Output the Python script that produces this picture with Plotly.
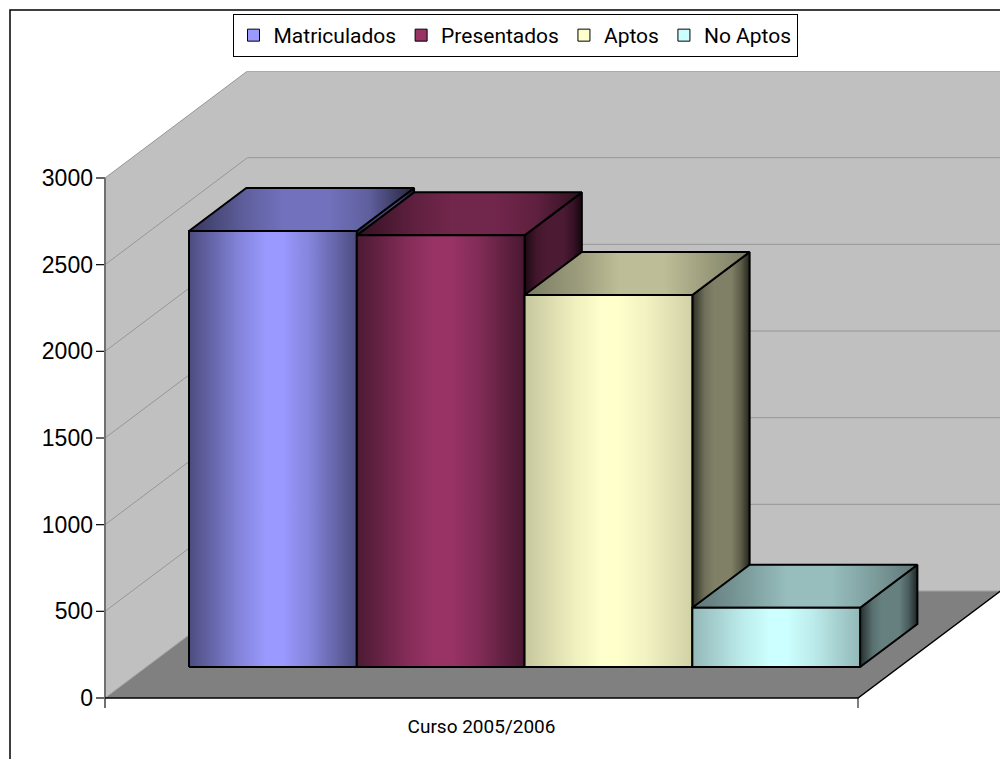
import plotly.graph_objects as go

# ---- data ----
category = "Curso 2005/2006"
series_names = ["Matriculados", "Presentados", "Aptos", "No Aptos"]
series_values = [2515, 2490, 2146, 342]
series_colors = [(153, 153, 255), (153, 51, 102), (255, 255, 204), (204, 255, 255)]
y_ticks = [0, 500, 1000, 1500, 2000, 2500, 3000]

# ---- oblique projection parameters, in axis units ----
PX_X = 753            # pixels per category width
PX_Y = 520 / 3000     # pixels per value unit
DEPTH_X = 142.5 / PX_X
DEPTH_Y = 107 / PX_Y
X_MIN = -9 / PX_X
X_MAX = 896 / PX_X
Y_MIN = -10 / PX_Y
Y_MAX = 627 / PX_Y
GAP = 0.0567
BAR_W = 0.2228
D0, D1 = 0.29, 0.692

# page pixels = figure pixels + 8 (body margin)
PLOT_L, PLOT_R, PLOT_T, PLOT_B = 96, 1001, 71, 708
FIG_W, FIG_H = 1000, 751

def paper_x(px):
    return (px - PLOT_L) / (PLOT_R - PLOT_L)

def paper_y(py):
    return (PLOT_B - py) / (PLOT_B - PLOT_T)

def proj(x, v, d):
    return x + d * DEPTH_X, v + d * DEPTH_Y

def poly(points):
    xs, ys = zip(*[proj(*p) for p in points])
    return list(xs) + [xs[0]], list(ys) + [ys[0]]

def shade(c, k):
    return "rgb(%d,%d,%d)" % tuple(round(a * k) for a in c)

def scale(c, stops):
    return [[p, shade(c, k)] for p, k in stops]

FRONT_L = [.50, .50, .78, .72]
FRONT_R = [.50, .48, .82, .72]
TOP_L = [.36, .33, .48, .46]
TOP_R = [.24, .30, .48, .46]

def front_stops(i):
    l, r = FRONT_L[i], FRONT_R[i]
    return [(0, l), (.30, l + (1 - l) * .72), (.46, 1.0), (.56, 1.0), (.72, r + (1 - r) * .72), (1, r)]

def top_stops(i):
    l, r = TOP_L[i], TOP_R[i]
    return [(0, l), (.25, .62), (.42, .74), (.62, .74), (.80, .62), (1, r)]

SIDE = [(0, .18), (.22, .44), (.38, .50), (.68, .50), (.85, .36), (1, .14)]

fig = go.Figure()

def face(points, fill=None, grad=None, line=None, width=1):
    xs, ys = poly(points)
    kw = dict(x=xs, y=ys, mode="lines", fill="toself", hoverinfo="skip",
              showlegend=False, line=dict(color=line or "rgba(0,0,0,0)", width=width))
    if grad:
        kw["fillgradient"] = dict(type="horizontal", colorscale=grad)
    else:
        kw["fillcolor"] = fill
    fig.add_trace(go.Scatter(**kw))

def seg(points, color, width):
    xs, ys = zip(*[proj(*p) for p in points])
    fig.add_trace(go.Scatter(x=xs, y=ys, mode="lines", hoverinfo="skip", showlegend=False,
                             line=dict(color=color, width=width)))

# walls and floor
top = y_ticks[-1]
wall_top = Y_MAX - DEPTH_Y
face([(0, 0, 0), (0, 0, 1), (1, 0, 1), (1, wall_top, 1), (0, wall_top, 1), (0, top, 0)], fill="#c0c0c0")
face([(0, 0, 0), (1, 0, 0), (1, 0, 1), (0, 0, 1)], fill="#808080")

# gridlines
for t in y_ticks[1:]:
    seg([(0, t, 0), (0, t, 1), (1, t, 1)], "#969696", 1)
seg([(0, 0, 0), (0, 0, 1), (1, 0, 1)], "#a0a0a0", 1)

# axis lines and tick marks
for t in y_ticks:
    seg([(X_MIN, t, 0), (0, t, 0)], "black", 1.2)
seg([(0, top, 0), (0, Y_MIN, 0)], "#707070", 2)
seg([(0, 0, 0), (1, 0, 0), (1, 0, 1)], "black", 1.5)
seg([(1, 0, 0), (1, Y_MIN, 0)], "black", 1)

# bars
for i, (name, v, c) in enumerate(zip(series_names, series_values, series_colors)):
    x0 = GAP + i * BAR_W
    x1 = x0 + BAR_W
    face([(x1, 0, D0), (x1, 0, D1), (x1, v, D1), (x1, v, D0)], grad=scale(c, SIDE), line="black", width=2)
    face([(x0, v, D0), (x1, v, D0), (x1, v, D1), (x0, v, D1)], grad=scale(c, top_stops(i)), line="black", width=2)
    face([(x0, 0, D0), (x1, 0, D0), (x1, v, D0), (x0, v, D0)], grad=scale(c, front_stops(i)), line="black", width=2)

# legend entries
for name, c in zip(series_names, series_colors):
    fig.add_trace(go.Scatter(x=[None], y=[None], mode="markers", name=name, hoverinfo="skip",
                             marker=dict(symbol="square", size=12, color=shade(c, 1),
                                         line=dict(color="black", width=1))))

fig.add_shape(type="rect", xref="paper", yref="paper", layer="above",
              x0=paper_x(10), x1=paper_x(1030), y0=paper_y(790), y1=paper_y(10),
              line=dict(color="black", width=1.5), fillcolor="rgba(0,0,0,0)")

fig.update_layout(
    width=FIG_W, height=FIG_H,
    margin=dict(l=PLOT_L - 8, r=FIG_W + 8 - PLOT_R, t=PLOT_T - 8, b=FIG_H + 8 - PLOT_B, autoexpand=False),
    paper_bgcolor="white", plot_bgcolor="white",
    legend=dict(orientation="h", x=paper_x(515), xanchor="center",
                y=paper_y(14), yanchor="top", bgcolor="white",
                bordercolor="black", borderwidth=1,
                font=dict(family="Roboto", size=21, color="black"),
                itemclick=False, itemdoubleclick=False),
    xaxis=dict(range=[X_MIN, X_MAX], showgrid=False, zeroline=False, showline=False, ticks="",
               tickmode="array", tickvals=[0.5], ticktext=[category], ticklabelstandoff=5,
               tickfont=dict(family="Roboto", size=19, color="black")),
    yaxis=dict(range=[Y_MIN, Y_MAX], showgrid=False, zeroline=False, showline=False, ticks="",
               tickmode="array", tickvals=y_ticks, ticklabelstandoff=2,
               tickfont=dict(family="Liberation Sans", size=23, color="black")),
)

fig.write_html("out.html")
